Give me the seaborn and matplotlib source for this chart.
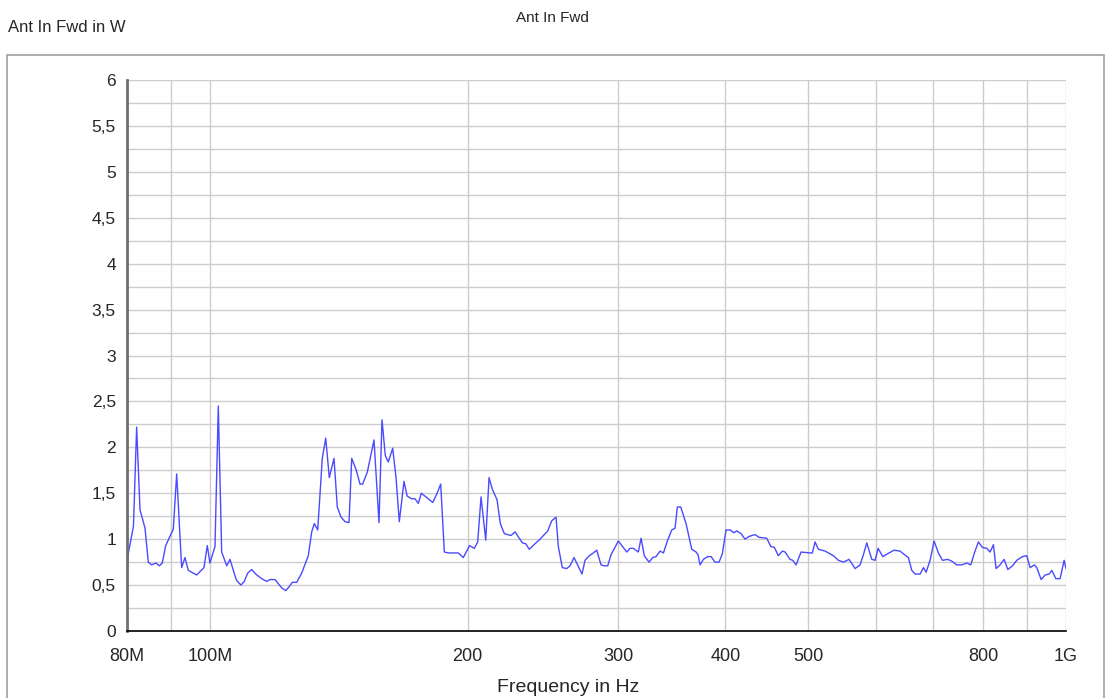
import matplotlib
matplotlib.use("Agg")
import matplotlib.pyplot as plt
from matplotlib.patches import Rectangle
from matplotlib.ticker import FixedLocator, FuncFormatter
import numpy as np
import pandas as pd
import seaborn as sns

# Sweep frequencies (MHz) and forward antenna power (W)
freq_mhz = [
    80.0, 80.3, 81.4, 82.1, 82.85, 83.97, 84.72, 85.49, 86.49, 87.26, 87.96, 88.78,
    90.61, 91.44, 92.67, 93.50, 94.34, 96.49, 98.40, 99.28, 100.0, 101.36, 102.27,
    103.20, 104.61, 105.54, 106.97, 107.46, 108.70, 109.67, 110.68, 111.87, 113.09,
    114.93, 116.49, 117.52, 119.12, 121.28, 122.60, 123.69, 124.80, 126.28, 127.98,
    130.28, 131.48, 132.41, 133.62, 135.28, 136.53, 137.85, 139.61, 140.85, 142.26,
    143.81, 145.36, 146.42, 148.12, 149.72, 150.80, 152.69, 155.47, 157.57, 158.84,
    160.27, 161.56, 163.48, 164.95, 166.41, 168.53, 169.94, 172.05, 173.59, 175.14,
    176.56, 178.81, 182.06, 184.03, 186.01, 187.84, 189.86, 195.04, 197.67, 201.0,
    203.62, 205.49, 207.33, 209.97, 211.84, 213.79, 216.44, 218.37, 220.73, 224.75,
    227.18, 231.69, 233.81, 236.08, 239.73, 242.98, 248.07, 250.75, 253.67, 255.24,
    258.00, 261.08, 263.41, 266.25, 272.03, 274.25, 277.44, 280.44, 283.02, 286.31,
    288.63, 291.52, 294.12, 299.96, 306.81, 309.54, 312.29, 316.54, 318.83, 321.68,
    325.77, 329.03, 331.98, 335.56, 338.66, 342.22, 346.28, 349.39, 351.55, 354.77,
    359.88, 365.44, 369.70, 371.69, 373.69, 377.06, 381.51, 384.91, 389.08, 393.29,
    396.76, 400.76, 405.41, 409.17, 412.47, 417.27, 421.78, 426.35, 433.28, 437.97,
    447.14, 451.98, 456.38, 461.31, 466.34, 469.71, 476.06, 479.55, 483.81, 490.36,
    502.37, 505.47, 509.18, 513.74, 523.06, 530.15, 534.91, 542.13, 549.62, 557.95,
    567.03, 574.71, 579.86, 585.17, 593.09, 598.43, 603.23, 610.89, 618.51, 629.80,
    639.99, 645.78, 654.46, 660.46, 666.36, 675.37, 681.49, 686.39, 693.80, 701.31,
    709.48, 717.19, 727.64, 735.48, 745.47, 755.55, 765.79, 774.03, 781.63, 790.07,
    798.63, 808.13, 815.33, 822.65, 828.60, 837.56, 846.60, 855.10, 866.10, 876.05,
    889.39, 899.94, 907.96, 918.54, 924.48, 935.31, 945.37, 955.58, 962.61, 972.96,
    984.27, 994.97, 1000.0,
]
power_w = [
    0.61, 0.85, 1.14, 2.22, 1.32, 1.12, 0.75, 0.72, 0.74, 0.71, 0.74, 0.93,
    1.11, 1.71, 0.69, 0.80, 0.66, 0.61, 0.69, 0.93, 0.74, 0.92, 2.45,
    0.86, 0.71, 0.78, 0.60, 0.55, 0.50, 0.54, 0.63, 0.67, 0.62,
    0.57, 0.54, 0.56, 0.56, 0.47, 0.44, 0.48, 0.53, 0.53, 0.63,
    0.82, 1.08, 1.17, 1.10, 1.88, 2.10, 1.67, 1.88, 1.35, 1.24,
    1.19, 1.18, 1.88, 1.76, 1.60, 1.60, 1.73, 2.08, 1.18, 2.30,
    1.91, 1.84, 1.99, 1.67, 1.19, 1.63, 1.47, 1.44, 1.44, 1.39,
    1.50, 1.46, 1.40, 1.49, 1.60, 0.86, 0.85, 0.85, 0.80, 0.93,
    0.90, 0.97, 1.46, 0.99, 1.67, 1.54, 1.43, 1.17, 1.06, 1.04,
    1.08, 0.96, 0.95, 0.89, 0.95, 1.00, 1.09, 1.20, 1.24, 0.92,
    0.69, 0.68, 0.71, 0.80, 0.62, 0.77, 0.82, 0.85, 0.88, 0.72,
    0.71, 0.71, 0.83, 0.98, 0.86, 0.90, 0.90, 0.86, 1.01, 0.82,
    0.75, 0.80, 0.81, 0.87, 0.85, 0.98, 1.10, 1.12, 1.35, 1.35,
    1.17, 0.89, 0.86, 0.83, 0.72, 0.78, 0.81, 0.81, 0.75, 0.75,
    0.84, 1.10, 1.10, 1.07, 1.09, 1.06, 1.00, 1.03, 1.05, 1.02,
    1.01, 0.92, 0.91, 0.82, 0.87, 0.86, 0.78, 0.77, 0.72, 0.86,
    0.85, 0.85, 0.97, 0.89, 0.87, 0.84, 0.82, 0.77, 0.75, 0.78,
    0.68, 0.72, 0.83, 0.96, 0.78, 0.77, 0.90, 0.81, 0.84, 0.88,
    0.87, 0.84, 0.80, 0.66, 0.62, 0.62, 0.69, 0.64, 0.77, 0.98,
    0.85, 0.77, 0.78, 0.76, 0.72, 0.72, 0.74, 0.72, 0.85, 0.97,
    0.91, 0.90, 0.86, 0.94, 0.68, 0.72, 0.78, 0.67, 0.71, 0.77,
    0.81, 0.82, 0.69, 0.72, 0.69, 0.56, 0.61, 0.62, 0.66, 0.57,
    0.57, 0.77, 0.68,
]

x_ticks = [80, 90, 100, 200, 300, 400, 500, 600, 700, 800, 900, 1000]
x_tick_labels = {80: "80M", 100: "100M", 200: "200", 300: "300", 400: "400",
                 500: "500", 800: "800", 1000: "1G"}

df = pd.DataFrame({"freq": freq_mhz, "power": power_w})

sns.set_style("white")
plt.rcParams["font.family"] = ["Liberation Sans", "DejaVu Sans"]

fig = plt.figure(figsize=(11.05, 6.98), dpi=100)
ax = fig.add_axes([127 / 1105, 67 / 698, 939 / 1105, 551 / 698])

# outer frame around the plotting region
fig.patches.append(Rectangle((7 / 1105, -0.01), 1097 / 1105, (698 - 55) / 698 + 0.01,
                             transform=fig.transFigure, fill=False,
                             edgecolor="#a0a0a0", linewidth=1.2))

sns.lineplot(data=df, x="freq", y="power", ax=ax, color="#4a4aff",
             linewidth=1.0, estimator=None, sort=False)

ax.set_xscale("log")
ax.set_xlim(80, 1000)
ax.set_ylim(0, 6)

ax.xaxis.set_major_locator(FixedLocator(x_ticks))
ax.xaxis.set_minor_locator(FixedLocator([]))
ax.xaxis.set_major_formatter(FuncFormatter(lambda v, p: x_tick_labels.get(int(round(v)), "")))

ax.yaxis.set_major_locator(FixedLocator(np.arange(0, 6.01, 0.5)))
ax.yaxis.set_minor_locator(FixedLocator(np.arange(0.25, 6, 0.5)))
ax.yaxis.set_major_formatter(FuncFormatter(lambda v, p: f"{v:g}".replace(".", ",")))

ax.grid(True, which="both", color="#cccccc", linewidth=1.0)
ax.set_axisbelow(True)

for side in ("top", "right"):
    ax.spines[side].set_visible(False)
ax.spines["left"].set_color("#707070")
ax.spines["left"].set_linewidth(2.0)
ax.spines["bottom"].set_color("#000000")
ax.spines["bottom"].set_linewidth(1.2)

ax.tick_params(axis="y", which="both", direction="inout", length=10, width=1.2,
               color="#222222", labelsize=12.5, pad=3)
ax.tick_params(axis="x", which="major", direction="in", length=7, width=1.0,
               color="#000000", labelsize=13, pad=12)

ax.set_xlabel("")
ax.set_ylabel("")

fig.text(8 / 1105, 1 - 28 / 698, "Ant In Fwd in W", ha="left", va="center", fontsize=12)
fig.text(552 / 1105, 1 - 18 / 698, "Ant In Fwd", ha="center", va="center", fontsize=11)
fig.text(568 / 1105, 1 - 688 / 698, "Frequency in Hz", ha="center", va="center", fontsize=14)

fig.savefig("out.png", dpi=100)
